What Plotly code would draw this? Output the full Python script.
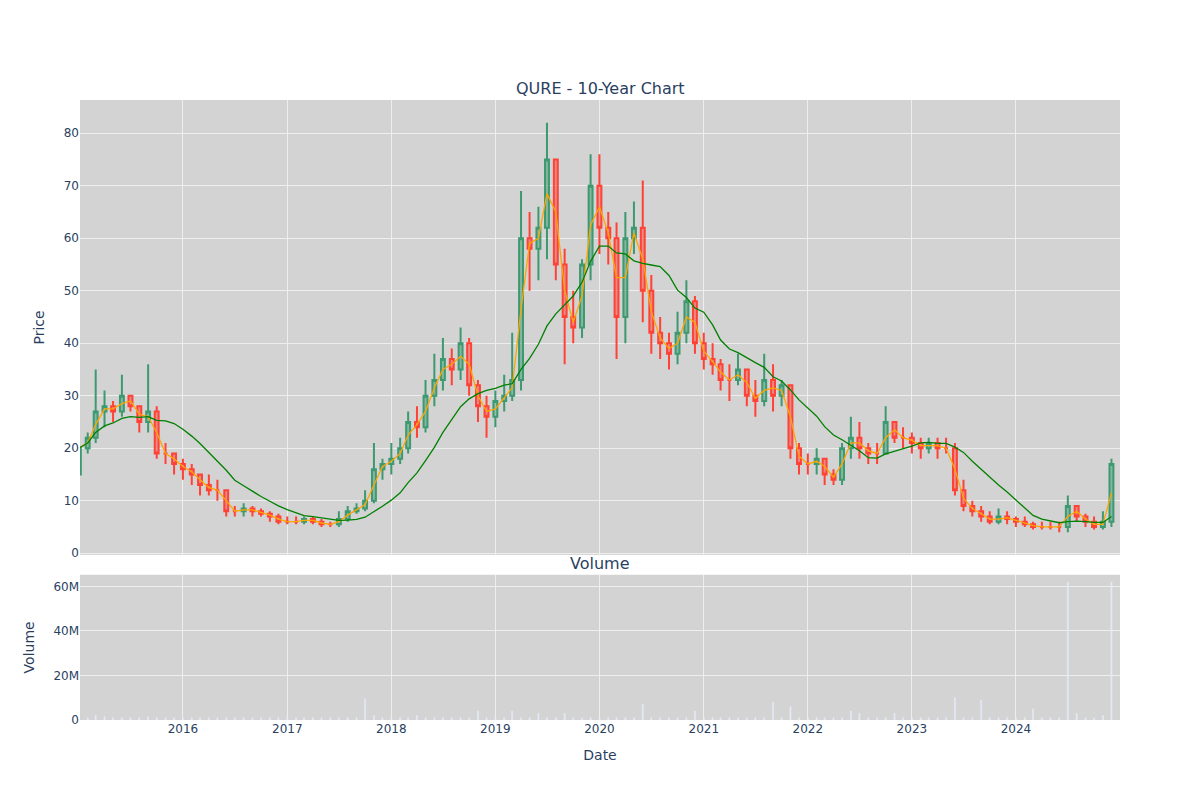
import pandas as pd
import plotly.graph_objects as go
from plotly.subplots import make_subplots

dates = pd.date_range("2015-01-01", periods=120, freq="MS")
close = [20,22,27,28,27,30,28,25,27,19,19,17,
         16,15,13,12,12,8,8,8.5,8,7.5,7,6,
         6,6,6.5,6,5.5,5.5,6.5,8,8.5,10,16,17,
         18,20,25,24,30,33,37,35,40,32,28,26,
         29,30,33,60,58,62,75,55,45,43,55,70,
         62,60,45,60,62,50,42,40,38,42,48,40,
         37,36,33,33,35,30,29,33,30,32,20,17,
         17,18,15,14,20,22,20,19,19,25,22,22,
         21,20,21,20,20,12,9,8,7,6,7,6.5,
         6,5.5,5,5,5,5,9,7,6,5,6,17]
open_ = [15,20,22,27,28,27,30,28,25,27,19,19,
         17,16,15,13,12,12,8,8,8.5,8,7.5,7,
         6,6,6,6.5,6,5.5,5.5,6.5,8,8.5,10,16,
         17,18,20,25,24,30,33,37,35,40,32,28,
         26,29,30,33,60,58,62,75,55,45,43,55,
         70,62,60,45,60,62,50,42,40,38,42,48,
         40,37,36,33,33,35,30,29,33,30,32,20,
         17,17,18,15,14,20,22,20,19,19,25,22,
         22,21,20,21,20,20,12,9,8,7,6,7,
         6.5,6,5.5,5,5,5,5,9,7,6,5,6]
high = [24,23,35,31,29,34,30,28,36,28,21,19,
        18,17,15,15,14,12,9,9.5,9,8.5,8,7.5,
        7,7,7,7,6.5,6,8,9,9.5,12,21,18,
        21,22,27,28,33,38,41,39,43,41,33,30,
        31,34,42,69,65,66,82,75,58,50,56,76,
        76,65,63,65,67,71,53,45,42,46,52,49,
        42,40,37,36,38,35,33,38,36,33,32,21,
        19,20,18,16,21,26,25,21,21,28,25,24,
        23,22,22,22,22,21,14,10,9,8,8.5,8,
        7,7,6,6,6,6,11,9,7.5,7,8,18]
low = [14,19,21,24,25,26,27,23,23,18,17,15,
       14,13,11,11,10,7,7,7,7,7,6,5.5,
       5.5,5.5,5.5,5.5,5,5,5,6,7.5,8,9.5,14,
       15,17,19,22,23,28,31,32,33,30,25,22,
       24,27,29,31,50,52,56,52,36,40,41,52,
       57,55,37,40,57,44,38,37,35,36,40,38,
       35,34,31,29,32,28,26,28,27,28,18,15,
       15,15,13,13,13,18,18,17,17,19,21,20,
       19,18,19,18,19,11,8,7,6,5.5,5.5,5.5,
       5,5,4.5,4.5,4.5,4,4,6,5,4.5,4.5,5]
volume = [1.5,1,2,1.5,1,1,1,1,1.5,1,1,1,
          1,1,1,1,1,1,1,1,1,1,1,1,
          1,1,1,1,1,1,1,1,1,9.5,2,1,
          1,1,1,2,1,1,1,1,1,1,4,1,
          1,1,4,1,1,3,1,1,3,1,1,1,
          1,1,1,1,1,7,1,1,1,1,1,4,
          1,1,1,1,1,1,1,1,8,1,6,1,
          1,1,1,1,1,4,3,1,1,1,3,1,
          1,1,1,1,1,10,1,1,9,1,1,1,
          1,1,5,1,1,1,62,3,1,1,2,62]
volume = [v * 1e6 for v in volume]

df = pd.DataFrame({"open": open_, "high": high, "low": low, "close": close}, index=dates)
ma_short = df["close"].rolling(2, min_periods=1).mean()
ma_long = df["close"].rolling(10, min_periods=1).mean()

fig = make_subplots(rows=2, cols=1, shared_xaxes=True, row_heights=[0.758, 0.242],
                    vertical_spacing=0.032, subplot_titles=("QURE - 10-Year Chart", "Volume"))
fig.add_trace(go.Candlestick(x=dates, open=df["open"], high=df["high"], low=df["low"], close=df["close"],
                             increasing_line_color="#3d9970", decreasing_line_color="#ff4136",
                             whiskerwidth=0, showlegend=False), row=1, col=1)
fig.add_trace(go.Scatter(x=dates, y=ma_short, mode="lines", line=dict(color="orange", width=1.3),
                         showlegend=False), row=1, col=1)
fig.add_trace(go.Scatter(x=dates, y=ma_long, mode="lines", line=dict(color="green", width=1.3),
                         showlegend=False), row=1, col=1)
fig.add_trace(go.Bar(x=dates, y=volume, marker_color="lavender", width=4 * 86400000,
                     showlegend=False), row=2, col=1)

fig.update_layout(width=1200, height=800, plot_bgcolor="#d3d3d3", paper_bgcolor="white",
                  margin=dict(l=72, r=88, t=92, b=88), xaxis_rangeslider_visible=False,
                  font=dict(family="DejaVu Sans", color="#2a3f5f", size=12))
fig.update_annotations(font=dict(family="DejaVu Sans", size=16))
fig.update_xaxes(gridcolor="#eeeeee", range=["2015-01-05", "2024-12-31"], automargin=False)
fig.update_xaxes(title_text="Date", row=2, col=1)
fig.update_yaxes(gridcolor="#eeeeee", zeroline=False, automargin=False)
fig.update_yaxes(title_text="Price", row=1, col=1)
fig.update_yaxes(title_text="Volume", row=2, col=1)
fig.write_html("out.html")
